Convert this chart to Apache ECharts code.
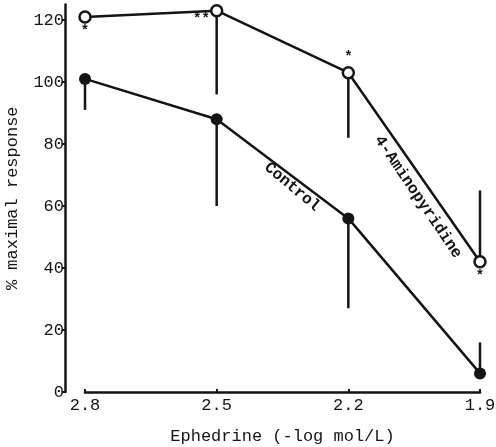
<!DOCTYPE html>
<html>
<head>
<meta charset="utf-8">
<script src="https://cdn.jsdelivr.net/npm/echarts@6/dist/echarts.min.js"></script>
<style>
  html, body { margin: 0; padding: 0; background: #fff; }
  #chart { width: 496px; height: 447px; }
</style>
</head>
<body>
<div id="chart"></div>
<script>
// ephedrine dose (-log mol/L)
var doses = ['2.8', '2.5', '2.2', '1.9'];
var yTicks = [0, 20, 40, 60, 80, 100, 120];

// control
var controlMean = [101, 88, 56, 6];
var controlBarEnd = [91, 60, 27, 16];

// 4-aminopyridine
var apMean = [121, 123, 103, 42];
var apBarEnd = [null, 96, 82, 65];
var apStars = ['*', '**', '*', '*'];
var apStarPos = ['bottom', 'left', 'top', 'bottom'];

var ink = '#141414';
var mono = 'Liberation Mono, DejaVu Sans Mono, monospace';

function barData(mean, ends) {
    var out = [];
    for (var i = 0; i < mean.length; i++) {
        if (ends[i] != null) out.push([i, mean[i], ends[i]]);
    }
    return out;
}

function drawBar(params, api) {
    var a = api.coord([api.value(0), api.value(1)]);
    var b = api.coord([api.value(0), api.value(2)]);
    return { type: 'line', shape: { x1: a[0], y1: a[1], x2: b[0], y2: b[1] },
        style: { stroke: ink, lineWidth: 2.5 } };
}

var apData = apMean.map(function (v, i) {
    return {
        value: v,
        label: {
            show: true,
            formatter: apStars[i],
            position: apStarPos[i],
            distance: 1,
            offset: apStarPos[i] == 'left' ? [1, 9] : [0, 0]
        }
    };
});

var chart = echarts.init(document.getElementById('chart'));
var option = {
    animation: false,
    backgroundColor: '#fff',
    grid: { left: 85, right: 16, top: 4.5, bottom: 55, outerBoundsMode: 'none' },
    xAxis: {
        type: 'category',
        data: doses,
        boundaryGap: false,
        name: 'Ephedrine (-log mol/L)',
        nameLocation: 'middle',
        nameGap: 36,
        nameTextStyle: { color: ink, fontFamily: mono, fontSize: 17 },
        axisLine: { lineStyle: { color: ink, width: 2.5 } },
        axisTick: { inside: true, length: 3, lineStyle: { color: ink, width: 2 } },
        axisLabel: { color: ink, fontFamily: mono, fontSize: 17, margin: 5 },
        splitLine: { show: false }
    },
    yAxis: {
        type: 'value',
        min: 0,
        max: 125,
        offset: 20,
        name: '% maximal response',
        nameLocation: 'middle',
        nameRotate: 90,
        nameGap: 44,
        nameTextStyle: { color: ink, fontFamily: mono, fontSize: 17 },
        axisLine: { show: true, lineStyle: { color: ink, width: 2.5 } },
        axisTick: { show: true, length: 3, customValues: yTicks, lineStyle: { color: ink, width: 2 } },
        axisLabel: { color: ink, fontFamily: mono, fontSize: 17, margin: 1, customValues: yTicks },
        splitLine: { show: false }
    },
    series: [
        {
            name: 'ctrl bars',
            type: 'custom',
            z: 1,
            data: barData(controlMean, controlBarEnd),
            renderItem: drawBar
        },
        {
            name: 'ap bars',
            type: 'custom',
            z: 1,
            data: barData(apMean, apBarEnd),
            renderItem: drawBar
        },
        {
            name: 'Control',
            type: 'line',
            z: 3,
            data: controlMean,
            symbol: 'circle',
            symbolSize: 12,
            itemStyle: { color: ink },
            lineStyle: { color: ink, width: 2.5 }
        },
        {
            name: '4-Aminopyridine',
            type: 'line',
            z: 3,
            data: apData,
            symbol: 'circle',
            symbolSize: 11,
            itemStyle: { color: '#fff', borderColor: ink, borderWidth: 2.5 },
            lineStyle: { color: ink, width: 2.5 },
            label: { color: ink, fontFamily: mono, fontSize: 14, fontWeight: 'bold' }
        }
    ],
    graphic: [
        {
            type: 'text', x: 292, y: 187, rotation: -40 * Math.PI / 180,
            style: { text: 'Control', fill: ink, font: 'bold 16px ' + mono, align: 'center', verticalAlign: 'middle' }
        },
        {
            type: 'text', x: 418, y: 197, rotation: -56 * Math.PI / 180,
            style: { text: '4-Aminopyridine', fill: ink, font: 'bold 16px ' + mono, align: 'center', verticalAlign: 'middle' }
        }
    ]
};
chart.setOption(option);
</script>
</body>
</html>
